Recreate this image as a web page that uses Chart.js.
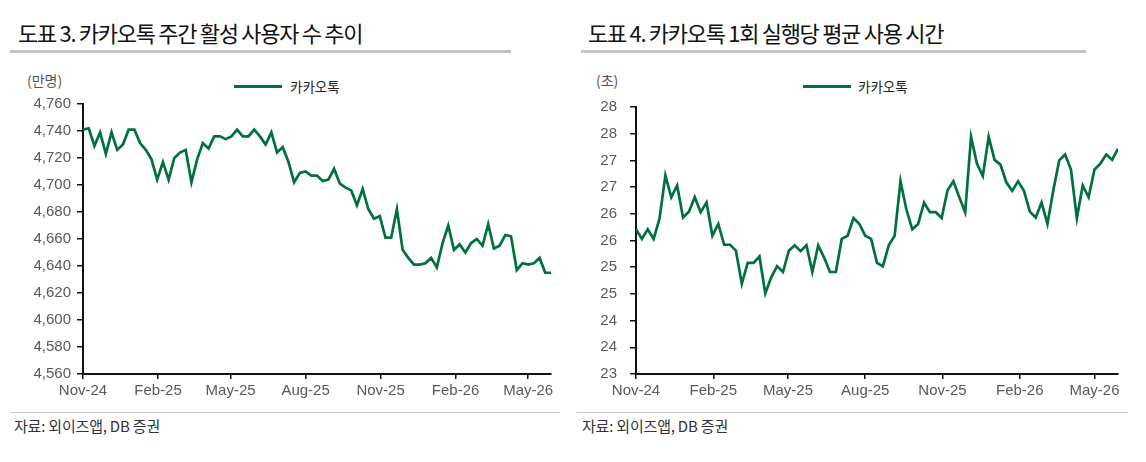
<!DOCTYPE html>
<html>
<head>
<meta charset="utf-8">
<script src="https://cdn.jsdelivr.net/npm/chart.js@4.4.1/dist/chart.umd.min.js"></script>
<style>
  body { margin: 0; width: 1146px; height: 462px; background: #fff; position: relative; overflow: hidden;
         font-family: "Noto Sans CJK KR", sans-serif; }
  .abs { position: absolute; white-space: nowrap; }
  .title { top: 18px; font-size: 22px; line-height: 28px; color: #111; letter-spacing: -1.3px; }
  .bar { top: 50px; height: 3px; background: #c4c4c4; }
  .unit { top: 70px; font-size: 14px; line-height: 20px; color: #555; }
  .legline { top: 85px; width: 48px; height: 3px; background: #00703c; }
  .legtext { top: 76px; font-size: 13.5px; line-height: 20px; color: #222; }
  .src-line { top: 412px; height: 1px; background: #c8c8c8; }
  .src { top: 416px; font-size: 15px; line-height: 20px; color: #333; letter-spacing: -0.2px; }
  canvas { position: absolute; top: 0; }
</style>
</head>
<body>

<div class="abs title" style="left:18px">도표 3. 카카오톡 주간 활성 사용자 수 추이</div>
<div class="abs bar" style="left:10px;width:501px"></div>
<div class="abs unit" style="left:27px">(만명)</div>
<div class="abs legline" style="left:234px"></div>
<div class="abs legtext" style="left:290px">카카오톡</div>
<div class="abs src-line" style="left:10px;width:550px"></div>
<div class="abs src" style="left:14px">자료: 외이즈앱, DB 증권</div>

<div class="abs title" style="left:588px">도표 4. 카카오톡 1회 실행당 평균 사용 시간</div>
<div class="abs bar" style="left:581px;width:505px"></div>
<div class="abs unit" style="left:596px">(초)</div>
<div class="abs legline" style="left:803px"></div>
<div class="abs legtext" style="left:858px">카카오톡</div>
<div class="abs src-line" style="left:577px;width:551px"></div>
<div class="abs src" style="left:582px">자료: 외이즈앱, DB 증권</div>

<canvas id="wauChart" width="573" height="462" style="left:0"></canvas>
<canvas id="timeChart" width="573" height="462" style="left:573px"></canvas>

<script>
// weekly points, first week = Nov-24
const firstWeek = '2024-11-01';
const tickDates = ['2024-11-01', '2025-02-01', '2025-05-01', '2025-08-01', '2025-11-01', '2026-02-01', '2026-05-01'];
const tickLabels = ['Nov-24', 'Feb-25', 'May-25', 'Aug-25', 'Nov-25', 'Feb-26', 'May-26'];

// 카카오톡 주간 활성 사용자 (만명)
const weeklyUsers = [
  4741, 4742, 4729, 4739, 4723, 4739, 4726, 4730, 4741, 4741,
  4731, 4726, 4719, 4704, 4717, 4704, 4720, 4724, 4726, 4702,
  4719, 4731, 4727, 4736, 4736, 4734, 4736, 4741, 4736, 4736,
  4741, 4736, 4730, 4739, 4724, 4728, 4717, 4702, 4709, 4710,
  4707, 4707, 4703, 4704, 4712, 4701, 4698, 4696, 4685, 4697,
  4682, 4675, 4677, 4661, 4661, 4682, 4652, 4646, 4641, 4641,
  4642, 4646, 4639, 4657, 4670, 4652, 4656, 4650, 4657, 4660,
  4655, 4671, 4653, 4655, 4663, 4662, 4637, 4642, 4641, 4642,
  4646, 4635, 4635
];

// 1회 실행당 평균 사용 시간 (초)
const secondsPerRun = [
  25.71, 25.53, 25.71, 25.53, 25.91, 26.72, 26.31, 26.53, 25.93, 26.04,
  26.31, 26.03, 26.21, 25.59, 25.81, 25.42, 25.42, 25.31, 24.69, 25.08,
  25.08, 25.20, 24.51, 24.81, 25.02, 24.91, 25.31, 25.41, 25.30, 25.41,
  24.91, 25.41, 25.18, 24.91, 24.91, 25.53, 25.59, 25.92, 25.81, 25.59,
  25.53, 25.08, 25.02, 25.41, 25.59, 26.61, 26.08, 25.71, 25.81, 26.21,
  26.03, 26.03, 25.92, 26.44, 26.61, 26.31, 26.03, 27.44, 26.94, 26.71,
  27.44, 27.01, 26.92, 26.59, 26.43, 26.61, 26.43, 26.04, 25.93, 26.21,
  25.81, 26.44, 27.00, 27.11, 26.83, 25.92, 26.53, 26.31, 26.83, 26.94,
  27.11, 27.01, 27.22
];

const GREEN = '#00703c';
const DAY = 86400000;
const dayOffset = (d) => Math.round((Date.parse(d) - Date.parse(firstWeek)) / DAY);
const tickDays = tickDates.map(dayOffset);

const renderLineChart = (id, values, yOpts, box) => {
  return new Chart(document.getElementById(id), {
    type: 'line',
    data: {
      datasets: [{
        label: '카카오톡',
        data: values.map((v, i) => ({ x: i * 7, y: v })),
        borderColor: GREEN,
        borderWidth: 2.7,
        pointRadius: 0,
        tension: 0,
        fill: false
      }]
    },
    options: {
      responsive: false,
      animation: false,
      devicePixelRatio: 1,
      layout: { padding: { top: box.top, right: box.right, bottom: 462 - box.bottom - 30, left: 0 } },
      plugins: { legend: { display: false }, tooltip: { enabled: false } },
      scales: {
        x: {
          type: 'linear',
          min: 0,
          max: (values.length - 1) * 7,
          afterBuildTicks: (scale) => { scale.ticks = tickDays.map(v => ({ value: v })); },
          afterFit: (scale) => { scale.height = 30; },
          ticks: {
            callback: (v, i) => tickLabels[i],
            color: '#595959',
            font: { family: 'Liberation Sans', size: 15 },
            padding: 3,
            maxRotation: 0,
            autoSkip: false
          },
          grid: { drawOnChartArea: false, tickLength: 5, color: '#111', lineWidth: 1.5 },
          border: { color: '#111', width: 2 }
        },
        y: {
          min: yOpts.min,
          max: yOpts.max,
          afterFit: (scale) => { scale.width = box.left; },
          ticks: {
            stepSize: yOpts.step,
            callback: yOpts.fmt,
            color: '#595959',
            font: { family: 'Liberation Sans', size: 15 },
            padding: yOpts.pad
          },
          grid: { drawOnChartArea: false, tickLength: 6, color: '#111', lineWidth: 1.5 },
          border: { color: '#111', width: 2 }
        }
      }
    }
  });
};

renderLineChart('wauChart', weeklyUsers,
  { min: 4560, max: 4760, step: 20, pad: 6, fmt: (v) => v.toLocaleString('en-US') },
  { left: 83, top: 104, right: 22, bottom: 374 });

renderLineChart('timeChart', secondsPerRun,
  { min: 23, max: 28, step: 0.5, pad: 13, fmt: (v) => String(Math.round(v)) },
  { left: 63, top: 107, right: 28, bottom: 374 });
</script>
</body>
</html>
